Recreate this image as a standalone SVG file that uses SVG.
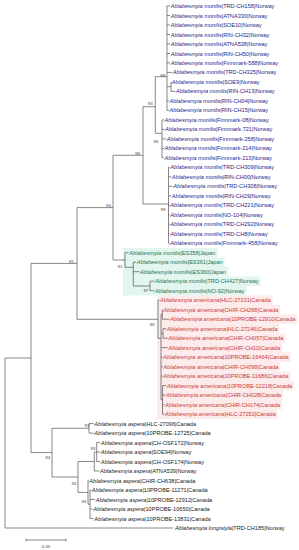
<svg xmlns="http://www.w3.org/2000/svg" width="299" height="550" viewBox="0 0 299 550">
<style>
.t{font-family:"Liberation Sans",Arial,sans-serif;font-size:5.6px}
.sp{font-style:italic}
.b{fill:#26268a}
.g{fill:#2a7355}
.r{fill:#c8413b}
.k{fill:#222222}
.bs{font-family:"Liberation Sans",Arial,sans-serif;font-size:4.4px;fill:#444444;text-anchor:middle}
.ln{stroke:#555555;stroke-width:0.7;fill:none}
.gb{fill:#e2f5ee}
.rb{fill:#fdeaea}
</style>
<rect width="299" height="550" fill="#ffffff"/>
<g id="highlights">
<rect class="gb" x="123" y="248" width="94.5" height="9.5"/>
<rect class="gb" x="123" y="257.5" width="101.5" height="9.5"/>
<rect class="gb" x="123" y="267" width="105.5" height="9.5"/>
<rect class="gb" x="123" y="276.5" width="137.5" height="9.5"/>
<rect class="gb" x="123" y="286" width="123.5" height="9.5"/>
<rect class="rb" x="157" y="295.4" width="115.5" height="9.5"/>
<rect class="rb" x="157" y="304.9" width="123" height="9.5"/>
<rect class="rb" x="157" y="314.4" width="140" height="9.5"/>
<rect class="rb" x="157" y="323.9" width="122" height="9.5"/>
<rect class="rb" x="157" y="333.4" width="128" height="9.5"/>
<rect class="rb" x="157" y="342.9" width="125" height="9.5"/>
<rect class="rb" x="157" y="352.4" width="133.5" height="9.5"/>
<rect class="rb" x="157" y="361.9" width="123" height="9.5"/>
<rect class="rb" x="157" y="371.4" width="133.5" height="9.5"/>
<rect class="rb" x="157" y="380.9" width="137" height="9.5"/>
<rect class="rb" x="157" y="390.4" width="126" height="9.5"/>
<rect class="rb" x="157" y="399.9" width="125" height="9.5"/>
<rect class="rb" x="157" y="409.4" width="120.5" height="9.5"/>
</g>
<g id="connectors" class="ln">
<path d="M5 358V528M5 358H31M5 528H173"/>
<path d="M31 263.4V452.6M31 263.4H77M31 452.6H52"/>
<path d="M77 207.6V319.3M77 207.6H113M77 319.3H158"/>
<path d="M113 155.3V260M113 155.3H143M113 260H125"/>
<path d="M143 106.7V204M143 106.7H155.3M143 204H168.5"/>
<path d="M155.3 76.7V133.3M155.3 76.7H167M155.3 133.3H162"/>
<path d="M167 6V110.4M167 6H170M167 15.5H170M167 25H170M167 34.5H170M167 44H170M167 53.5H170M167 62.9H170M167 72.4H172M167 86.7H171M171 81.9V91.4M171 81.9H171.2M171 91.4H175.4M167 100.9H169M167 110.4H169"/>
<path d="M162 119.9V157.8M162 119.9H164M162 129.4H164.4M162 138.9H166.2M162 148.4H164M162 157.8H164"/>
<path d="M168.5 167.3V243.3M168.5 167.3H169.7M168.5 176.8H171.2M168.5 186.3H172.7M168.5 195.8H171.2M168.5 205.3H169.7M168.5 214.8H169.7M168.5 224.3H169.7M168.5 233.8H169.7M168.5 243.3H169.7"/>
<path d="M125 252.7V267.3M125 252.7H128.7M125 267.3H133.3M133.3 262.2V286M133.3 262.2H136.1M133.3 271.7H139.4M133.3 286H150M150 281.2V290.7M150 281.2H154.4M150 290.7H154.4"/>
<path d="M158 300.2V338.4M158 300.2H159.4M158 338.4H161M161 314.4V399.8M161 314.4H162.3M162.3 309.7V319.2M162.3 309.7H162.7M162.3 319.2H169.4M161 333.4H163M163 328.7V338.2M163 328.7H166.1M163 338.2H167.7M161 347.6H167.7M161 357.1H162.7M161 366.6H162.7M161 376.1H162.7M161 399.8H162.5M162.5 385.6V414.1M162.5 385.6H166.1M162.5 395.1H165.4M162.5 404.6H164.4M162.5 414.1H164.4"/>
<path d="M52 428.3V477M52 428.3H89M89 423.6V433.1M89 423.6H93.7M89 433.1H93.7"/>
<path d="M52 477H78M78 461.5V492.4M78 461.5H94.3M94.3 452V471M94.3 452H96.7M94.3 471H99.4M96.7 442.5V461.5M96.7 442.5H100.1M96.7 452H100.1M96.7 461.5H100.1"/>
<path d="M78 492.4H88M88 480.5V504.2M88 480.5H88.7M88 504.2H90M90 490V518.5M90 490H91.1M90 499.5H95.1M90 509H92.7M90 518.5H93.7"/>
</g>
<g id="support">
<text class="bs" x="162.7" y="76.5">98</text>
<text class="bs" x="150.3" y="104.5">93</text>
<text class="bs" x="156" y="142.5">95</text>
<text class="bs" x="137.5" y="154.5">98</text>
<text class="bs" x="163" y="211">99</text>
<text class="bs" x="108.5" y="206.5">94</text>
<text class="bs" x="71.5" y="262.5">82</text>
<text class="bs" x="120" y="267.5">91</text>
<text class="bs" x="146" y="291.5">97</text>
<text class="bs" x="152" y="325.5">99</text>
<text class="bs" x="87" y="426.5">93</text>
<text class="bs" x="93" y="449.5">93</text>
<text class="bs" x="47.7" y="459.3">94</text>
<text class="bs" x="74" y="484.5">94</text>
<text class="bs" x="84" y="502.5">94</text>
</g>
<g id="leaves" class="t">
<g id="n0"><text class="b" x="170.7" y="8"><tspan class="sp">Ablabesmyia monilis</tspan>|TRD-CH158|Norway</text></g>
<g id="n1"><text class="b" x="170.7" y="17.5"><tspan class="sp">Ablabesmyia monilis</tspan>|ATNA330|Norway</text></g>
<g id="n2"><text class="b" x="170.7" y="27"><tspan class="sp">Ablabesmyia monilis</tspan>|SOE10|Norway</text></g>
<g id="n3"><text class="b" x="170.7" y="36.5"><tspan class="sp">Ablabesmyia monilis</tspan>|RIN-CH32|Norway</text></g>
<g id="n4"><text class="b" x="170.7" y="46"><tspan class="sp">Ablabesmyia monilis</tspan>|ATNA538|Norway</text></g>
<g id="n5"><text class="b" x="170.7" y="55.5"><tspan class="sp">Ablabesmyia monilis</tspan>|RIN-CH50|Norway</text></g>
<g id="n6"><text class="b" x="170.7" y="64.9"><tspan class="sp">Ablabesmyia monilis</tspan>|Finnmark-588|Norway</text></g>
<g id="n7"><text class="b" x="172.7" y="74.4"><tspan class="sp">Ablabesmyia monilis</tspan>|TRD-CH325|Norway</text></g>
<g id="n8"><text class="b" x="171.8" y="83.9"><tspan class="sp">Ablabesmyia monilis</tspan>|SOE9|Norway</text></g>
<g id="n9"><text class="b" x="176" y="93.4"><tspan class="sp">Ablabesmyia monilis</tspan>|RIN-CH13|Norway</text></g>
<g id="n10"><text class="b" x="169.5" y="102.9"><tspan class="sp">Ablabesmyia monilis</tspan>|RIN-CH04|Norway</text></g>
<g id="n11"><text class="b" x="169.5" y="112.4"><tspan class="sp">Ablabesmyia monilis</tspan>|RIN-CH15|Norway</text></g>
<g id="n12"><text class="b" x="164.5" y="121.9"><tspan class="sp">Ablabesmyia monilis</tspan>|Finnmark-08|Norway</text></g>
<g id="n13"><text class="b" x="165" y="131.4"><tspan class="sp">Ablabesmyia monilis</tspan>|Finnmark-721|Norway</text></g>
<g id="n14"><text class="b" x="166.8" y="140.9"><tspan class="sp">Ablabesmyia monilis</tspan>|Finnmark-258|Norway</text></g>
<g id="n15"><text class="b" x="164.5" y="150.4"><tspan class="sp">Ablabesmyia monilis</tspan>|Finnmark-214|Norway</text></g>
<g id="n16"><text class="b" x="164.5" y="159.8"><tspan class="sp">Ablabesmyia monilis</tspan>|Finnmark-213|Norway</text></g>
<g id="n17"><text class="b" x="170.3" y="169.3"><tspan class="sp">Ablabesmyia monilis</tspan>|TRD-CH309|Norway</text></g>
<g id="n18"><text class="b" x="171.8" y="178.8"><tspan class="sp">Ablabesmyia monilis</tspan>|RIN-CH00|Norway</text></g>
<g id="n19"><text class="b" x="173.3" y="188.3"><tspan class="sp">Ablabesmyia monilis</tspan>|TRD-CH308|Norway</text></g>
<g id="n20"><text class="b" x="171.8" y="197.8"><tspan class="sp">Ablabesmyia monilis</tspan>|RIN-CH29|Norway</text></g>
<g id="n21"><text class="b" x="170.3" y="207.3"><tspan class="sp">Ablabesmyia monilis</tspan>|TRD-CH221|Norway</text></g>
<g id="n22"><text class="b" x="170.3" y="216.8"><tspan class="sp">Ablabesmyia monilis</tspan>|NO-104|Norway</text></g>
<g id="n23"><text class="b" x="170.3" y="226.3"><tspan class="sp">Ablabesmyia monilis</tspan>|TRD-CH292|Norway</text></g>
<g id="n24"><text class="b" x="170.3" y="235.8"><tspan class="sp">Ablabesmyia monilis</tspan>|TRD-CH8|Norway</text></g>
<g id="n25"><text class="b" x="170.3" y="245.3"><tspan class="sp">Ablabesmyia monilis</tspan>|Finnmark-458|Norway</text></g>
<g id="n26"><text class="g" x="129.3" y="254.7"><tspan class="sp">Ablabesmyia monilis</tspan>|ES358|Japan</text></g>
<g id="n27"><text class="g" x="136.7" y="264.2"><tspan class="sp">Ablabesmyia monilis</tspan>|ES361|Japan</text></g>
<g id="n28"><text class="g" x="140" y="273.7"><tspan class="sp">Ablabesmyia monilis</tspan>|ES360|Japan</text></g>
<g id="n29"><text class="g" x="155" y="283.2"><tspan class="sp">Ablabesmyia monilis</tspan>|TRD-CH427|Norway</text></g>
<g id="n30"><text class="g" x="155" y="292.7"><tspan class="sp">Ablabesmyia monilis</tspan>|NO-92|Norway</text></g>
<g id="n31"><text class="r" x="160" y="302.2"><tspan class="sp">Ablabesmyia americana</tspan>|HLC-27231|Canada</text></g>
<g id="n32"><text class="r" x="163.3" y="311.7"><tspan class="sp">Ablabesmyia americana</tspan>|CHIR-CH268|Canada</text></g>
<g id="n33"><text class="r" x="170" y="321.2"><tspan class="sp">Ablabesmyia americana</tspan>|10PROBE-12910|Canada</text></g>
<g id="n34"><text class="r" x="166.7" y="330.7"><tspan class="sp">Ablabesmyia americana</tspan>|HLC-27246|Canada</text></g>
<g id="n35"><text class="r" x="168.3" y="340.2"><tspan class="sp">Ablabesmyia americana</tspan>|CHIR-CH057|Canada</text></g>
<g id="n36"><text class="r" x="168.3" y="349.6"><tspan class="sp">Ablabesmyia americana</tspan>|CHIR-CH10|Canada</text></g>
<g id="n37"><text class="r" x="163.3" y="359.1"><tspan class="sp">Ablabesmyia americana</tspan>|10PROBE-16464|Canada</text></g>
<g id="n38"><text class="r" x="163.3" y="368.6"><tspan class="sp">Ablabesmyia americana</tspan>|CHIR-CH098|Canada</text></g>
<g id="n39"><text class="r" x="163.3" y="378.1"><tspan class="sp">Ablabesmyia americana</tspan>|10PROBE-11686|Canada</text></g>
<g id="n40"><text class="r" x="166.7" y="387.6"><tspan class="sp">Ablabesmyia americana</tspan>|10PROBE-12218|Canada</text></g>
<g id="n41"><text class="r" x="166" y="397.1"><tspan class="sp">Ablabesmyia americana</tspan>|CHIR-CH028|Canada</text></g>
<g id="n42"><text class="r" x="165" y="406.6"><tspan class="sp">Ablabesmyia americana</tspan>|CHIR-CH174|Canada</text></g>
<g id="n43"><text class="r" x="165" y="416.1"><tspan class="sp">Ablabesmyia americana</tspan>|HLC-27252|Canada</text></g>
<g id="n44"><text class="k" x="94.3" y="425.6"><tspan class="sp">Ablabesmyia aspera</tspan>|HLC-27096|Canada</text></g>
<g id="n45"><text class="k" x="94.3" y="435.1"><tspan class="sp">Ablabesmyia aspera</tspan>|10PROBE-12725|Canada</text></g>
<g id="n46"><text class="k" x="100.7" y="444.5"><tspan class="sp">Ablabesmyia aspera</tspan>|CH-OSF172|Norway</text></g>
<g id="n47"><text class="k" x="100.7" y="454"><tspan class="sp">Ablabesmyia aspera</tspan>|SOE94|Norway</text></g>
<g id="n48"><text class="k" x="100.7" y="463.5"><tspan class="sp">Ablabesmyia aspera</tspan>|CH-OSF174|Norway</text></g>
<g id="n49"><text class="k" x="100" y="473"><tspan class="sp">Ablabesmyia aspera</tspan>|ATNA539|Norway</text></g>
<g id="n50"><text class="k" x="89.3" y="482.5"><tspan class="sp">Ablabesmyia aspera</tspan>|CHIR-CH638|Canada</text></g>
<g id="n51"><text class="k" x="91.7" y="492"><tspan class="sp">Ablabesmyia aspera</tspan>|10PROBE-11271|Canada</text></g>
<g id="n52"><text class="k" x="95.7" y="501.5"><tspan class="sp">Ablabesmyia aspera</tspan>|10PROBE-12912|Canada</text></g>
<g id="n53"><text class="k" x="93.3" y="511"><tspan class="sp">Ablabesmyia aspera</tspan>|10PROBE-10650|Canada</text></g>
<g id="n54"><text class="k" x="94.3" y="520.5"><tspan class="sp">Ablabesmyia aspera</tspan>|10PROBE-13831|Canada</text></g>
<g id="n55"><text class="k" x="175" y="530"><tspan class="sp">Ablabesmyia longistyla</tspan>|TRD-CH185|Norway</text></g>
</g>
<g id="scalebar">
<path class="ln" d="M26 540H66M26 538.6V541.4M66 538.6V541.4"/>
<text class="bs" x="46" y="547.5">0.05</text>
</g>
</svg>
